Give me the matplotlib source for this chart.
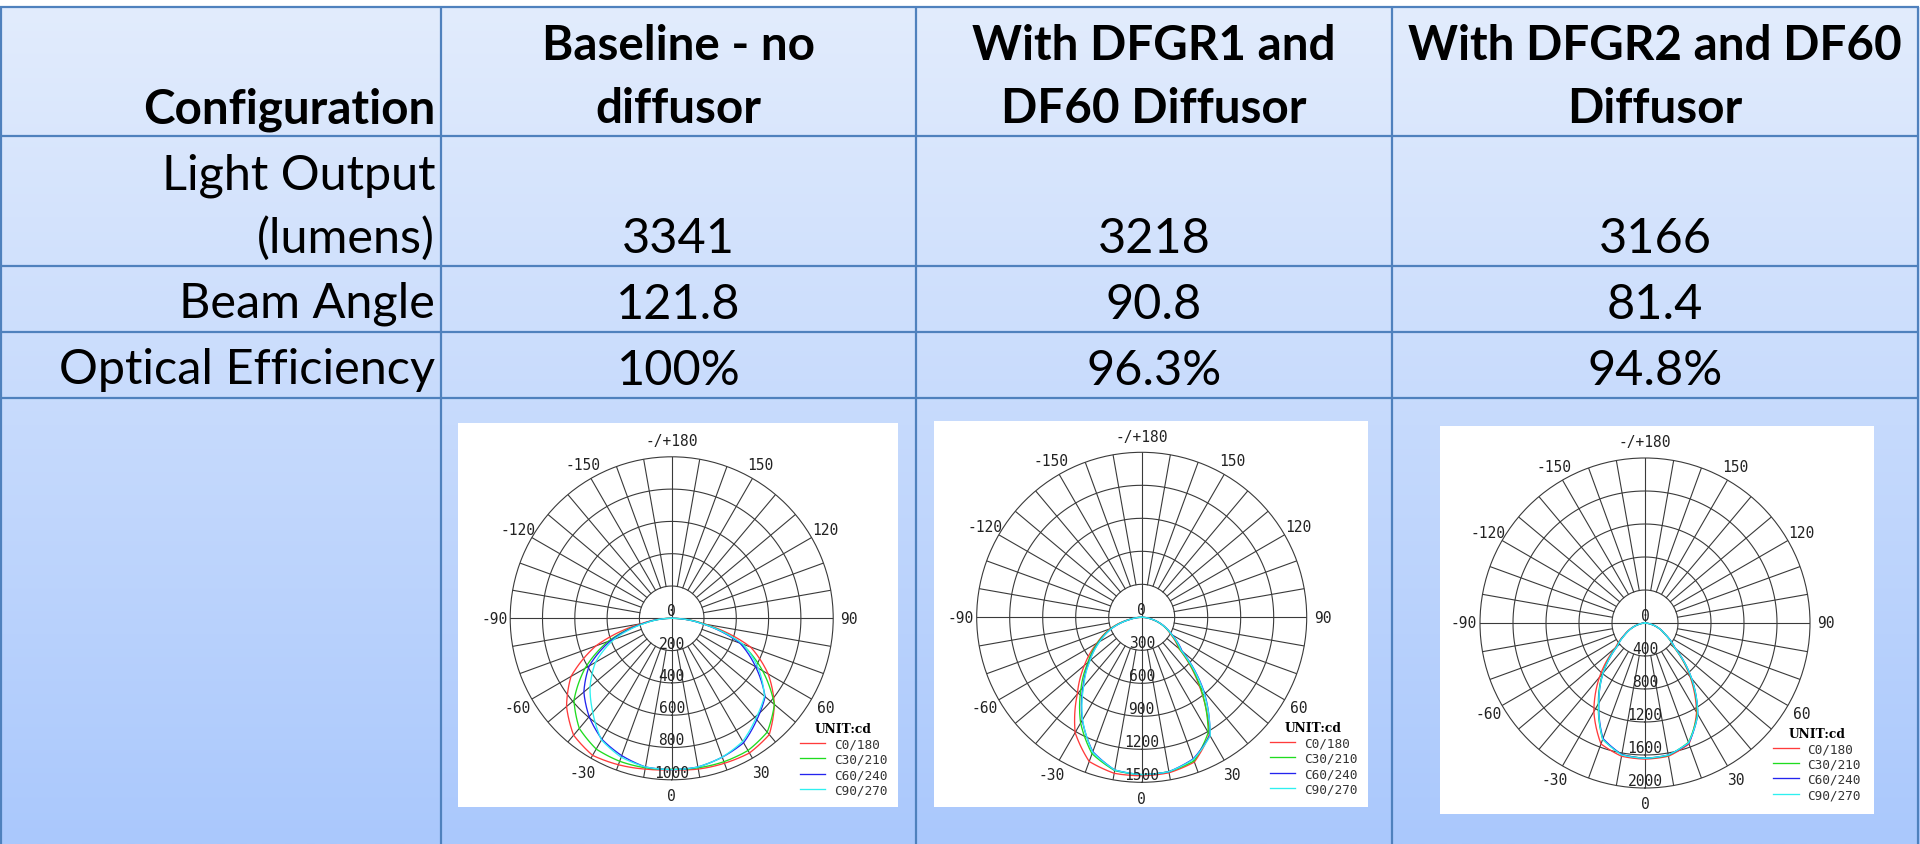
import numpy as np
import matplotlib
matplotlib.use("Agg")
import matplotlib.pyplot as plt
from matplotlib.patches import Rectangle

# ---------------- data ----------------
config_header = "Configuration"
column_headers = [["Baseline - no", "diffusor"],
                  ["With DFGR1 and", "DF60 Diffusor"],
                  ["With DFGR2 and DF60", "Diffusor"]]
row_labels = [["Light Output", "(lumens)"], ["Beam Angle"], ["Optical Efficiency"]]
light_output = [3341, 3218, 3166]
beam_angle = [121.8, 90.8, 81.4]
optical_efficiency = [100, 96.3, 94.8]

gamma = [-90, -80, -70, -60, -50, -40, -30, -20, -10, 0, 10, 20, 30, 40, 50, 60, 70, 80, 90]
plane_labels = ["C0/180", "C30/210", "C60/240", "C90/270"]

base_c0 = [0, 190, 500, 720, 850, 945, 980, 965, 948, 937, 948, 955, 963, 940, 830, 690, 520, 210, 0]
base_c30 = [0, 170, 420, 620, 790, 890, 935, 942, 940, 935, 940, 945, 945, 920, 830, 650, 460, 200, 0]
base_c60 = [0, 170, 400, 590, 710, 795, 865, 905, 935, 937, 935, 915, 890, 820, 755, 600, 450, 190, 0]
base_c90 = [0, 160, 380, 545, 660, 760, 870, 915, 935, 937, 935, 915, 880, 810, 750, 620, 470, 190, 0]

dfgr1_c0 = [0, 120, 306, 470, 680, 910, 1210, 1395, 1440, 1440, 1435, 1400, 1230, 815, 440, 300, 200, 80, 0]
dfgr1_c30 = [0, 110, 295, 460, 640, 860, 1110, 1320, 1415, 1430, 1425, 1390, 1210, 830, 450, 310, 195, 85, 0]
dfgr1_c60 = [0, 105, 285, 445, 620, 830, 1080, 1300, 1410, 1430, 1425, 1370, 1240, 880, 480, 320, 200, 85, 0]
dfgr1_c90 = [0, 105, 285, 440, 615, 820, 1075, 1305, 1410, 1430, 1425, 1375, 1245, 870, 470, 315, 200, 85, 0]

dfgr2_c0 = [0, 60, 170, 290, 470, 860, 1240, 1560, 1640, 1650, 1640, 1560, 1250, 850, 460, 290, 170, 60, 0]
dfgr2_c30 = [0, 55, 160, 280, 450, 800, 1130, 1500, 1620, 1640, 1630, 1540, 1270, 870, 470, 290, 170, 60, 0]
dfgr2_c60 = [0, 55, 160, 280, 440, 790, 1120, 1490, 1620, 1640, 1625, 1550, 1280, 880, 480, 295, 170, 60, 0]
dfgr2_c90 = [0, 55, 160, 275, 440, 790, 1120, 1500, 1625, 1640, 1625, 1545, 1280, 880, 475, 290, 170, 60, 0]

ring_values_base = [200, 400, 600, 800, 1000]
ring_values_dfgr1 = [300, 600, 900, 1200, 1500]
ring_values_dfgr2 = [400, 800, 1200, 1600, 2000]

theta_tick_angles = [0, 30, 60, 90, 120, 150, 180, 210, 240, 270, 300, 330]
theta_tick_labels = ["0", "30", "60", "90", "120", "150", "-/+180", "-150", "-120", "-90", "-60", "-30"]

# ---------------- style / layout ----------------
W, H = 1920, 845
BORDER = "#4f81bd"
TOP_COL = np.array([226, 236, 253]) / 255
BOT_COL = np.array([170, 200, 252]) / 255
plane_colors = ["#ff3b3b", "#1fdc1f", "#2424ee", "#2ef0f0"]
GRID = "#3a3a3a"
FONT = "Lato"
FS_BODY = 35
FS_HEAD = 34.3

col_x = [0.8, 441, 916, 1392, 1918]
row_y = [8, 137, 267, 333, 399]

fig = plt.figure(figsize=(W / 100, H / 100), dpi=100)
bg = fig.add_axes([0, 0, 1, 1])
bg.set_xlim(0, W)
bg.set_ylim(H, 0)
bg.axis("off")

# gradient background of table
n = 400
t = np.linspace(0, 1, n)[:, None]
grad = (TOP_COL[None, :] * (1 - t) + BOT_COL[None, :] * t)[:, None, :]
bg.imshow(grad, extent=(0, W, H, row_y[0]), aspect="auto", zorder=0, interpolation="bilinear")

# table lines
for y in row_y:
    bg.plot([0, col_x[-1] + 1], [y, y], color=BORDER, lw=1.6, zorder=2, solid_capstyle="butt")
for x in col_x:
    bg.plot([x, x], [row_y[0], H], color=BORDER, lw=1.6, zorder=2, solid_capstyle="butt")

# header texts
bg.text(col_x[1] - 6, 123, config_header, ha="right", va="baseline", fontsize=FS_HEAD,
        fontweight="bold", family=FONT, zorder=3)
for j, lines in enumerate(column_headers):
    cx = (col_x[j + 1] + col_x[j + 2]) / 2
    for k, line in enumerate(lines):
        bg.text(cx, [60, 123][k], line, ha="center", va="baseline", fontsize=FS_HEAD,
                fontweight="bold", family=FONT, zorder=3)

# row labels
label_baselines = [[190, 253], [318], [384]]
for lines, bls in zip(row_labels, label_baselines):
    for line, b in zip(lines, bls):
        bg.text(col_x[1] - 6, b, line, ha="right", va="baseline", fontsize=FS_BODY,
                family=FONT, zorder=3)

# values
value_rows = [[f"{v}" for v in light_output],
              [f"{v:.1f}" for v in beam_angle],
              [f"{v:g}%" for v in optical_efficiency]]
value_baselines = [253, 319, 385]
for vals, b in zip(value_rows, value_baselines):
    for j, s in enumerate(vals):
        cx = (col_x[j + 1] + col_x[j + 2]) / 2
        bg.text(cx, b, s, ha="center", va="baseline", fontsize=FS_BODY, family=FONT, zorder=3)

# polar diagrams
panels = [
    dict(curves=[base_c0, base_c30, base_c60, base_c90], rings=ring_values_base,
         center=(671.7, 619.3), R=161.5, rect=(458, 424, 898, 808)),
    dict(curves=[dfgr1_c0, dfgr1_c30, dfgr1_c60, dfgr1_c90], rings=ring_values_dfgr1,
         center=(1141.7, 618.3), R=165, rect=(934, 422, 1368, 808)),
    dict(curves=[dfgr2_c0, dfgr2_c30, dfgr2_c60, dfgr2_c90], rings=ring_values_dfgr2,
         center=(1645, 624), R=165, rect=(1440, 427, 1874, 815)),
]

mono = "DejaVu Sans Mono"
th = np.deg2rad(gamma)
for p in panels:
    x0, y0, x1, y1 = p["rect"]
    bg.add_patch(Rectangle((x0, y0), x1 - x0, y1 - y0, facecolor="white", edgecolor="none", zorder=1))
    cx, cy = p["center"]
    R = p["R"]
    ax = fig.add_axes([(cx - R) / W, 1 - (cy + R) / H, 2 * R / W, 2 * R / H], projection="polar")
    ax.set_facecolor("none")
    ax.set_theta_zero_location("S")
    ax.set_theta_direction(1)
    rings = p["rings"]
    rmax = rings[-1]
    ax.set_ylim(0, rmax)
    ax.set_xticks([])
    ax.set_yticks([])
    ax.grid(False)
    ax.spines["polar"].set_color(GRID)
    ax.spines["polar"].set_linewidth(0.8)
    full = np.linspace(0, 2 * np.pi, 361)
    for rv in rings[:-1]:
        ax.plot(full, np.full_like(full, rv), color=GRID, lw=0.8, zorder=1)
    for a in range(0, 360, 10):
        r0 = 0 if a % 90 == 0 else rings[0]
        ax.plot([np.deg2rad(a)] * 2, [r0, rmax], color=GRID, lw=0.8, zorder=1)
    lines = []
    for vals, col, lab in zip(p["curves"], plane_colors, plane_labels):
        ln, = ax.plot(th, vals, color=col, lw=0.95, label=lab, zorder=3)
        ln.get_path()._interpolation_steps = 24
        lines.append(ln)
    # radial labels
    for rv in [0] + rings:
        ax.text(0, rv, str(rv), ha="center", va="bottom", fontsize=10.5, family=mono,
                color="#222222", zorder=4)
    # angle labels
    for a, lab in zip(theta_tick_angles, theta_tick_labels):
        ax.text(np.deg2rad(a), rmax * (1 + 16 / R), lab, ha="center", va="center",
                fontsize=10.5, family=mono, color="#222222", clip_on=False)
    leg = ax.legend(handles=lines, loc="upper left",
                    bbox_to_anchor=((cx + 128) / W, 1 - (cy + 104) / H),
                    bbox_transform=fig.transFigure, frameon=False,
                    prop=dict(family=mono, size=9.2), title="UNIT:cd",
                    title_fontproperties=dict(family="DejaVu Serif", weight="bold", size=8.8),
                    handlelength=2.0, handletextpad=0.7, labelspacing=0.18, borderpad=0,
                    borderaxespad=0)
    for txt in leg.get_texts():
        txt.set_color("#333333")

fig.savefig("out.png", dpi=100, facecolor="white")
